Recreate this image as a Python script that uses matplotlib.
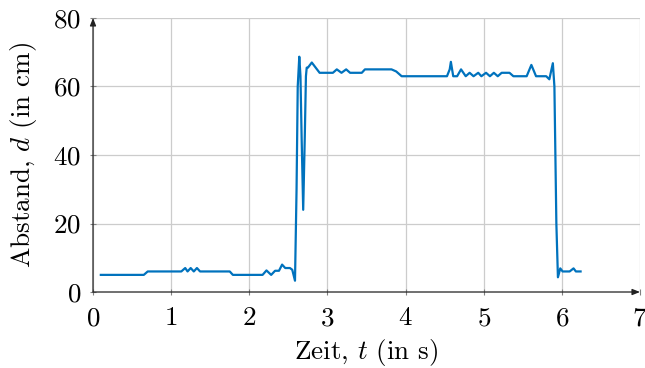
import matplotlib
matplotlib.use("Agg")
import matplotlib.pyplot as plt

plt.rcParams['font.family'] = ['cmr10', 'DejaVu Serif']
plt.rcParams['mathtext.fontset'] = 'cm'
plt.rcParams['axes.formatter.use_mathtext'] = True

t = [0.10, 0.65, 0.70, 1.13, 1.18, 1.21, 1.25, 1.29, 1.33, 1.37, 1.75, 1.79,
     2.17, 2.22, 2.28, 2.33, 2.38, 2.42, 2.46, 2.52, 2.55, 2.585, 2.605, 2.62,
     2.64, 2.655, 2.67, 2.69, 2.71, 2.725, 2.735, 2.75, 2.80, 2.90, 3.07, 3.12,
     3.18, 3.24, 3.29, 3.44, 3.48, 3.82, 3.88, 3.95, 4.53, 4.565, 4.58, 4.61,
     4.66, 4.71, 4.77, 4.82, 4.87, 4.93, 4.97, 5.03, 5.08, 5.13, 5.18, 5.23,
     5.33, 5.38, 5.55, 5.61, 5.67, 5.80, 5.84, 5.885, 5.905, 5.93, 5.95, 5.98,
     6.01, 6.10, 6.15, 6.18, 6.24]
d = [5, 5, 6, 6, 7, 6, 7, 6, 7, 6, 6, 5,
     5, 6.3, 5, 6.2, 6.2, 8, 7, 7, 6.5, 3.3, 30, 60,
     68.7, 63, 45, 24, 45, 63, 65.5, 65.5, 67, 64, 64, 65,
     64, 65, 64, 64, 65, 65, 64.4, 63, 63, 65, 67.2, 63,
     63, 65, 63, 64, 63, 64, 63, 64, 63, 64, 63, 64,
     64, 63, 63, 66.3, 63, 63, 62.1, 66.8, 60, 20, 4.3, 6.9,
     6, 6, 6.9, 6, 6]

xticks = [0, 1, 2, 3, 4, 5, 6, 7]
yticks = [0, 20, 40, 60, 80]

fig = plt.figure(figsize=(6.45, 3.68), dpi=100)
ax = fig.add_axes([0.1442, 0.2065, 0.8480, 0.7446])
ax.set_xlim(0, 7)
ax.set_ylim(0, 80)
ax.set_xticks(xticks)
ax.set_yticks(yticks)
ax.grid(True, color='#cccccc', linewidth=0.9)
ax.set_axisbelow(True)
for s in ['top', 'right', 'left', 'bottom']:
    ax.spines[s].set_visible(False)
ax.tick_params(direction='inout', length=5, width=0.8, color='#808080',
               labelsize=19.5)
ax.tick_params(axis='x', pad=8)
ax.tick_params(axis='y', pad=6)

ax.plot(t, d, color='#0072BD', linewidth=1.6, solid_joinstyle='round', clip_on=False)

ax.annotate('', xy=(1, 0), xytext=(0, 0), xycoords='axes fraction',
            arrowprops=dict(arrowstyle='-|>,head_length=0.45,head_width=0.18',
                            color='#222222', lw=0.9, shrinkA=0, shrinkB=0))
ax.annotate('', xy=(0, 1), xytext=(0, 0), xycoords='axes fraction',
            arrowprops=dict(arrowstyle='-|>,head_length=0.45,head_width=0.18',
                            color='#222222', lw=0.9, shrinkA=0, shrinkB=0))

ax.set_xlabel('Zeit, $t$ (in s)', fontsize=19.5, labelpad=5)
ax.set_ylabel('Abstand, $d$ (in cm)', fontsize=19.5, labelpad=10)

fig.savefig('out.png', dpi=100)
